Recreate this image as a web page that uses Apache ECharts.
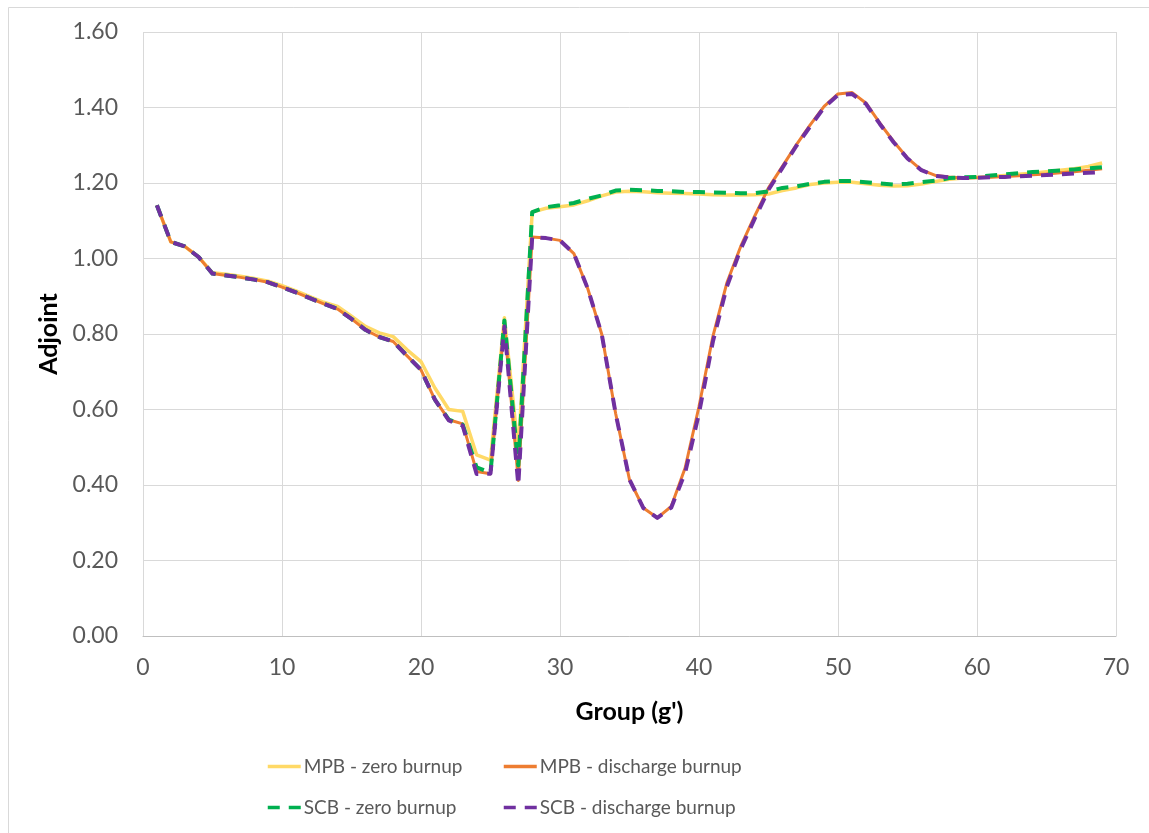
<!DOCTYPE html>
<html>
<head>
<meta charset="utf-8">
<title>Adjoint by group</title>
<script src="https://cdn.jsdelivr.net/npm/echarts@6/dist/echarts.min.js"></script>
<style>
  html, body { margin: 0; padding: 0; background: #ffffff; }
  #chart { width: 1149px; height: 833px; }
</style>
</head>
<body>
<div id="chart"></div>
<script>
// Energy groups g' = 1..69
const groups = [];
for (let g = 1; g <= 69; g++) groups.push(g);

// Adjoint values per group
const mpbZero = [
  1.141, 1.044, 1.032, 1.004, 0.962, 0.958, 0.953, 0.947, 0.940, 0.928,
  0.914, 0.899, 0.884, 0.873, 0.847, 0.820, 0.803, 0.793, 0.758, 0.727,
  0.657, 0.600, 0.595, 0.480, 0.466, 0.843, 0.490, 1.123, 1.133, 1.137,
  1.142, 1.153, 1.166, 1.176, 1.178, 1.177, 1.174, 1.173, 1.172, 1.171,
  1.169, 1.168, 1.168, 1.169, 1.171, 1.180, 1.187, 1.196, 1.200, 1.202,
  1.202, 1.198, 1.194, 1.192, 1.193, 1.197, 1.204, 1.210, 1.213, 1.215,
  1.217, 1.220, 1.223, 1.226, 1.230, 1.234, 1.238, 1.244, 1.253
];
const mpbDischarge = [
  1.141, 1.044, 1.032, 1.004, 0.960, 0.955, 0.950, 0.944, 0.937, 0.924,
  0.910, 0.895, 0.880, 0.866, 0.840, 0.811, 0.792, 0.780, 0.742, 0.705,
  0.626, 0.573, 0.562, 0.436, 0.430, 0.825, 0.412, 1.057, 1.054, 1.048,
  1.013, 0.920, 0.800, 0.590, 0.414, 0.339, 0.313, 0.343, 0.445, 0.608,
  0.794, 0.935, 1.032, 1.112, 1.187, 1.244, 1.301, 1.354, 1.403, 1.436,
  1.440, 1.412, 1.359, 1.310, 1.266, 1.235, 1.220, 1.216, 1.213, 1.214,
  1.215, 1.217, 1.219, 1.222, 1.224, 1.227, 1.230, 1.234, 1.238
];
const scbZero = [
  1.141, 1.044, 1.032, 1.004, 0.960, 0.955, 0.950, 0.944, 0.937, 0.924,
  0.910, 0.895, 0.880, 0.866, 0.840, 0.811, 0.792, 0.780, 0.742, 0.705,
  0.626, 0.573, 0.560, 0.447, 0.433, 0.836, 0.452, 1.123, 1.136, 1.141,
  1.147, 1.158, 1.167, 1.180, 1.182, 1.181, 1.179, 1.178, 1.176, 1.176,
  1.175, 1.174, 1.173, 1.173, 1.178, 1.187, 1.191, 1.198, 1.203, 1.205,
  1.205, 1.202, 1.199, 1.196, 1.198, 1.202, 1.206, 1.213, 1.215, 1.216,
  1.220, 1.223, 1.226, 1.229, 1.231, 1.233, 1.236, 1.239, 1.242
];
const scbDischarge = [
  1.141, 1.044, 1.032, 1.004, 0.960, 0.955, 0.950, 0.944, 0.937, 0.924,
  0.910, 0.895, 0.880, 0.866, 0.840, 0.811, 0.792, 0.780, 0.742, 0.705,
  0.626, 0.571, 0.557, 0.429, 0.430, 0.820, 0.400, 1.057, 1.054, 1.048,
  1.013, 0.920, 0.800, 0.590, 0.414, 0.339, 0.313, 0.340, 0.432, 0.590,
  0.780, 0.925, 1.025, 1.105, 1.182, 1.240, 1.298, 1.350, 1.400, 1.433,
  1.436, 1.410, 1.357, 1.308, 1.265, 1.234, 1.219, 1.215, 1.213, 1.214,
  1.215, 1.216, 1.218, 1.219, 1.221, 1.223, 1.225, 1.227, 1.229
];

const seriesNames = [
  'MPB - zero burnup', 'MPB - discharge burnup',
  'SCB - zero burnup', 'SCB - discharge burnup'
];

const xTicks = { min: 0, max: 70, interval: 10 };
const yTicks = { min: 0, max: 1.6, interval: 0.2 };

const FONT = 'Lato, "Open Sans", sans-serif';
const pairs = vals => groups.map((g, i) => [g, vals[i]]);

function lineSeries(name, vals, color, width, type) {
  return {
    name: name,
    type: 'line',
    data: pairs(vals),
    symbol: 'none',
    showSymbol: false,
    smooth: false,
    animation: false,
    lineStyle: { color: color, width: width, type: type, cap: 'butt', join: 'round' },
    itemStyle: { color: color },
    emphasis: { disabled: true }
  };
}

function legendAt(name, left, top) {
  return {
    data: [name],
    left: left,
    top: top,
    padding: 0,
    itemWidth: 33,
    itemHeight: 14,
    selectedMode: false,
    // line-only key: the marker glyph is kept transparent
    itemStyle: { opacity: 0 },
    lineStyle: { width: 3.5 },
    textStyle: { fontFamily: FONT, fontSize: 19, color: '#595959', padding: [0, 0, 0, -2] }
  };
}

const chart = echarts.init(document.getElementById('chart'), null, { renderer: 'canvas' });
chart.setOption({
  backgroundColor: '#ffffff',
  animation: false,
  graphic: [{
    type: 'rect',
    shape: { x: 8.5, y: 7.5, width: 1200, height: 900 },
    style: { fill: 'none', stroke: '#d9d9d9', lineWidth: 1 },
    silent: true,
    z: -10
  }],
  grid: { left: 143, right: 33, top: 32, bottom: 197, containLabel: false },
  xAxis: {
    type: 'value',
    min: xTicks.min, max: xTicks.max, interval: xTicks.interval,
    name: "Group (g')",
    nameLocation: 'middle',
    nameGap: 63,
    nameTextStyle: { fontFamily: FONT, fontSize: 25, fontWeight: 'bold', color: '#000000' },
    axisLine: { show: true, lineStyle: { color: '#bfbfbf', width: 1 } },
    axisTick: { show: false },
    axisLabel: { margin: 20, fontFamily: FONT, fontSize: 23, color: '#595959' },
    splitLine: { show: true, lineStyle: { color: '#d9d9d9', width: 1 } }
  },
  yAxis: {
    type: 'value',
    min: yTicks.min, max: yTicks.max, interval: yTicks.interval,
    name: 'Adjoint',
    nameLocation: 'middle',
    nameGap: 81,
    nameTextStyle: { fontFamily: FONT, fontSize: 25, fontWeight: 'bold', color: '#000000' },
    axisLine: { show: false },
    axisTick: { show: false },
    axisLabel: {
      margin: 25, fontFamily: FONT, fontSize: 23, color: '#595959',
      formatter: v => v.toFixed(2)
    },
    splitLine: { show: true, lineStyle: { color: '#d9d9d9', width: 1 } }
  },
  legend: [
    legendAt(seriesNames[0], 266, 757),
    legendAt(seriesNames[1], 502, 757),
    legendAt(seriesNames[2], 266, 798),
    legendAt(seriesNames[3], 502, 798)
  ],
  series: [
    lineSeries(seriesNames[0], mpbZero, '#ffd966', 3.5, 'solid'),
    lineSeries(seriesNames[1], mpbDischarge, '#ed7d31', 3, 'solid'),
    lineSeries(seriesNames[2], scbZero, '#00b050', 4, [12, 9]),
    lineSeries(seriesNames[3], scbDischarge, '#7030a0', 4, [12, 9])
  ]
});
</script>
</body>
</html>
